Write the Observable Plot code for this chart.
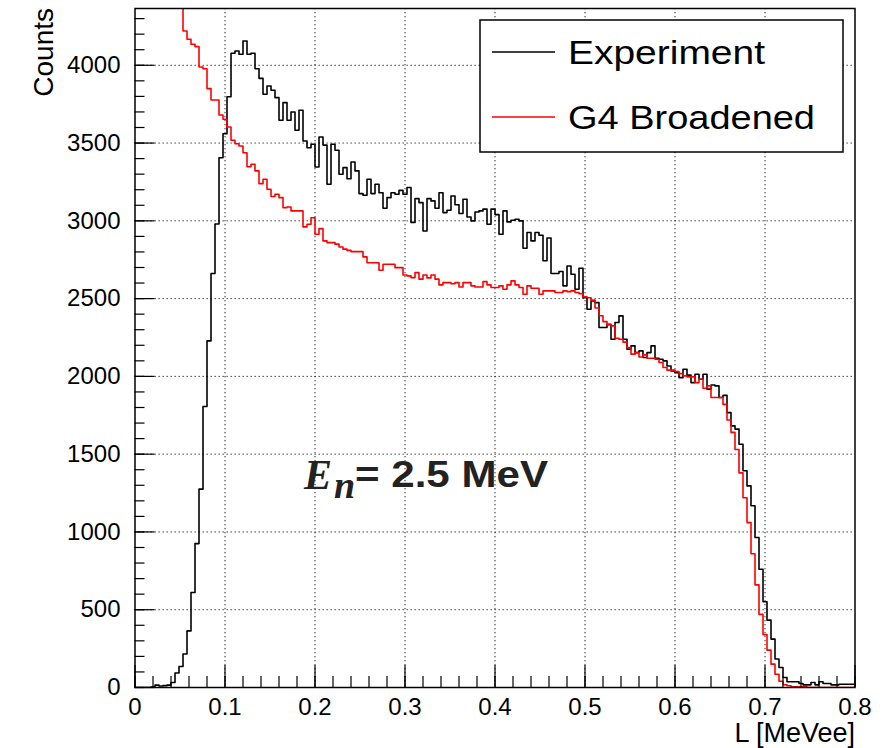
<!DOCTYPE html>
<html>
<head>
<meta charset="utf-8">
<script src="https://cdn.jsdelivr.net/npm/d3@7"></script>
<script src="https://cdn.jsdelivr.net/npm/@observablehq/plot@0.6"></script>
<style>
  html, body { margin: 0; padding: 0; background: #fff; }
  svg { display: block; }
</style>
</head>
<body>
<div id="chart"></div>
<script>
// ---- data (histogram bins of width 0.8/180 MeVee, starting at L = 0) ----
const binCount = 180;
const binWidth = 0.8 / binCount;

const experiment = [
  0, 0, 0, 0, 3, 15, 10, 12, 15, 32,
  93, 135, 215, 364, 611, 925, 1275, 1806, 2228, 2661,
  2980, 3406, 3560, 3798, 4077, 4092, 4071, 4156, 4071, 4077,
  3978, 3916, 3814, 3867, 3839, 3792, 3647, 3760, 3647, 3700,
  3582, 3711, 3513, 3470, 3492, 3346, 3539, 3487, 3235, 3492,
  3454, 3299, 3342, 3271, 3378, 3321, 3175, 3164, 3267, 3175,
  3235, 3181, 3081, 3149, 3181, 3171, 3196, 3171, 3214, 2990,
  3143, 3117, 2935, 3143, 3128, 3081, 3181, 3053, 3068, 3160,
  3103, 3047, 3139, 3025, 3000, 3057, 3064, 3075, 2978, 3075,
  3040, 2914, 3064, 2993, 3004, 3010, 3000, 2824, 2925, 2871,
  2925, 2907, 2743, 2890, 2661, 2661, 2674, 2582, 2710, 2657,
  2560, 2695, 2506, 2432, 2485, 2474, 2314, 2314, 2335, 2239,
  2346, 2389, 2239, 2175, 2196, 2153, 2164, 2121, 2153, 2196,
  2117, 2110, 2100, 2067, 2035, 2024, 1992, 2046, 2008, 1960,
  2014, 1982, 2014, 1918, 1945, 1939, 1864, 1878, 1767, 1682,
  1661, 1564, 1393, 1296, 1168, 964, 760, 551, 433, 311,
  183, 129, 64, 37, 37, 37, 26, 17, 17, 32,
  17, 37, 26, 26, 17, 17, 21, 21, 21, 21
];

const g4Broadened = [
  8200, 7900, 7400, 6900, 6500, 6100, 5800, 5450, 5200, 4950,
  4720, 4510, 4220, 4167, 4135, 4120, 3989, 3978, 3850, 3777,
  3777, 3680, 3653, 3603, 3518, 3496, 3481, 3438, 3348, 3364,
  3321, 3239, 3267, 3203, 3156, 3171, 3149, 3085, 3089, 3064,
  3064, 3064, 2961, 2978, 3020, 2914, 2950, 2871, 2860, 2860,
  2850, 2832, 2818, 2810, 2802, 2802, 2802, 2768, 2731, 2731,
  2731, 2682, 2721, 2721, 2721, 2699, 2699, 2652, 2646, 2635,
  2667, 2625, 2652, 2633, 2652, 2625, 2588, 2603, 2603, 2596,
  2603, 2575, 2603, 2603, 2582, 2575, 2575, 2609, 2588, 2571,
  2571, 2582, 2560, 2588, 2614, 2588, 2571, 2528, 2582, 2567,
  2567, 2528, 2550, 2550, 2550, 2539, 2539, 2550, 2545, 2550,
  2539, 2532, 2511, 2506, 2490, 2440, 2390, 2352, 2331, 2325,
  2245, 2239, 2220, 2185, 2143, 2153, 2125, 2138, 2117, 2117,
  2110, 2089, 2057, 2040, 2040, 2031, 2018, 2003, 1997, 1997,
  1960, 1982, 1924, 1939, 1864, 1864, 1864, 1820, 1720, 1640,
  1530, 1380, 1220, 1060, 860, 660, 470, 340, 240, 150,
  85, 40, 18, 11, 5, 5, 5, 5, 0, 0,
  0, 0, 0, 0, 0, 0, 0, 0, 0, 0
];

const xTickValues = [0, 0.1, 0.2, 0.3, 0.4, 0.5, 0.6, 0.7, 0.8];
const yTickValues = [0, 500, 1000, 1500, 2000, 2500, 3000, 3500, 4000];
const xMinorStep = 0.02;
const yMinorStep = 100;
const yMax = 4365;

const seriesNames = ["Experiment", "G4 Broadened"];
const seriesColors = ["#000000", "#ff0000"];
const xAxisTitle = "L [MeVee]";
const yAxisTitle = "Counts";
const energyLabel = { symbol: "E", sub: "n", rest: "= 2.5 MeV" };

// ---- layout ----
const W = 887, H = 748;
const mL = 134.5, mR = 32.5, mT = 8, mB = 61;
const frameW = W - mL - mR, frameH = H - mT - mB;

function toSteps(values) {
  const rows = values.map((v, i) => ({ x: i * binWidth, y: v }));
  rows.push({ x: values.length * binWidth, y: values[values.length - 1] });
  return rows;
}

const xMinor = d3.range(0, 0.8 + 1e-9, xMinorStep).map(d => +d.toFixed(3));
const yMinor = d3.range(0, yMax, yMinorStep);

const dotted = { stroke: "#000", strokeOpacity: 0.85, strokeWidth: 1, strokeDasharray: "1.3,2.7" };

const chart = Plot.plot({
  width: W,
  height: H,
  marginLeft: mL,
  marginRight: mR,
  marginTop: mT,
  marginBottom: mB,
  style: { fontFamily: "'Liberation Sans', Arial, sans-serif", background: "#fff", color: "#000" },
  x: { domain: [0, 0.8] },
  y: { domain: [0, yMax] },
  marks: [
    Plot.gridX(xTickValues.filter(d => d > 0 && d < 0.8), dotted),
    Plot.gridY(yTickValues.filter(d => d > 0), dotted),
    Plot.lineY(toSteps(experiment), { x: "x", y: "y", curve: "step-after", stroke: seriesColors[0], strokeWidth: 1.6, clip: true }),
    Plot.lineY(toSteps(g4Broadened), { x: "x", y: "y", curve: "step-after", stroke: seriesColors[1], strokeWidth: 1.6, clip: true }),
    Plot.ruleX(xMinor, { insetTop: frameH - 11, stroke: "#000", strokeWidth: 1.2 }),
    Plot.ruleX(xTickValues, { insetTop: frameH - 22, stroke: "#000", strokeWidth: 1.2 }),
    Plot.ruleY(yMinor, { insetRight: frameW - 10, stroke: "#000", strokeWidth: 1.2 }),
    Plot.ruleY(yTickValues, { insetRight: frameW - 20, stroke: "#000", strokeWidth: 1.2 }),
    Plot.axisX(xTickValues, { tickSize: 0, tickPadding: 10, fontSize: 24, label: null,
      tickFormat: d => d === 0 ? "0" : d.toFixed(1) }),
    Plot.axisY(yTickValues, { tickSize: 0, tickPadding: 14.5, fontSize: 24, label: null,
      tickFormat: d => String(d) }),
    Plot.frame({ stroke: "#000", strokeWidth: 1.5 })
  ]
});

document.getElementById("chart").appendChild(chart);

// ---- axis titles, legend and annotation ----
const svg = d3.select(chart);
const sans = "'Liberation Sans', Arial, sans-serif";
const serif = "'Liberation Serif', 'DejaVu Serif', serif";

svg.append("text")
  .attr("transform", "translate(53,8) rotate(-90)")
  .attr("text-anchor", "end")
  .attr("font-family", sans)
  .attr("font-size", 28)
  .attr("fill", "#000")
  .text(yAxisTitle);

svg.append("text")
  .attr("x", 855).attr("y", 742)
  .attr("text-anchor", "end")
  .attr("font-family", sans)
  .attr("font-size", 27)
  .attr("fill", "#000")
  .text(xAxisTitle);

const legend = svg.append("g").attr("text-anchor", "start");
legend.append("rect")
  .attr("x", 480).attr("y", 20).attr("width", 363).attr("height", 132)
  .attr("fill", "#fff").attr("stroke", "#000").attr("stroke-width", 1.5);
const legendRows = [
  { name: seriesNames[0], color: seriesColors[0], y: 52, len: 197 },
  { name: seriesNames[1], color: seriesColors[1], y: 117, len: 247 }
];
legendRows.forEach(r => {
  legend.append("line")
    .attr("x1", 492).attr("x2", 555).attr("y1", r.y).attr("y2", r.y)
    .attr("stroke", r.color).attr("stroke-width", 1.5);
  legend.append("text")
    .attr("x", 568).attr("y", r.y + 12)
    .attr("text-anchor", "start")
    .attr("font-family", sans).attr("font-size", 33)
    .attr("textLength", r.len).attr("lengthAdjust", "spacingAndGlyphs")
    .attr("fill", "#000")
    .text(r.name);
});

const ann = svg.append("g").attr("fill", "#222").attr("text-anchor", "start");
ann.append("text")
  .attr("x", 304).attr("y", 489)
  .attr("text-anchor", "start")
  .attr("font-family", serif)
  .attr("font-style", "italic").attr("font-weight", "bold")
  .attr("font-size", 42)
  .text(energyLabel.symbol);
ann.append("text")
  .attr("x", 334).attr("y", 498)
  .attr("text-anchor", "start")
  .attr("font-family", serif)
  .attr("font-style", "italic").attr("font-weight", "bold")
  .attr("font-size", 38)
  .text(energyLabel.sub);
ann.append("text")
  .attr("x", 355).attr("y", 487)
  .attr("text-anchor", "start")
  .attr("font-family", sans)
  .attr("font-weight", "bold")
  .attr("font-size", 36)
  .attr("textLength", 193).attr("lengthAdjust", "spacingAndGlyphs")
  .text(energyLabel.rest);
</script>
</body>
</html>
